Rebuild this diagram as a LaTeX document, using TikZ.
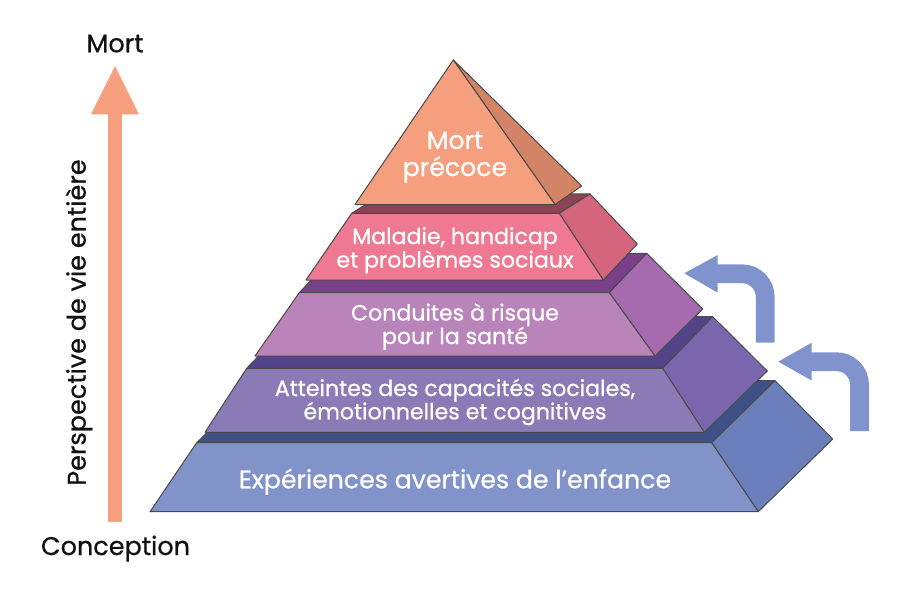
\documentclass[tikz,border=0pt]{standalone}
\usepackage{fontspec}
\setmainfont{Poppins}[FakeBold=0.7]
\definecolor{lAf}{HTML}{8193C9}\definecolor{lAs}{HTML}{6A7FBB}\definecolor{lAt}{HTML}{3F5089}
\definecolor{lBf}{HTML}{8A7BB6}\definecolor{lBs}{HTML}{7A66AD}\definecolor{lBt}{HTML}{53448A}
\definecolor{lCf}{HTML}{B984BA}\definecolor{lCs}{HTML}{A56BAE}\definecolor{lCt}{HTML}{7A408A}
\definecolor{lDf}{HTML}{EF7893}\definecolor{lDs}{HTML}{D5657D}\definecolor{lDt}{HTML}{8B4454}
\definecolor{lEf}{HTML}{F59F7E}\definecolor{lEs}{HTML}{D38466}
\definecolor{salmon}{HTML}{F6A07F}
\definecolor{bluearrow}{HTML}{8193CC}
\definecolor{edge}{HTML}{4A4A4A}
\definecolor{ink}{HTML}{111111}
\tikzset{
  face/.style={draw=edge, line width=1pt, line join=round},
  lbl/.style={text=white, font=\fontsize{25.2}{27}\selectfont, anchor=base, inner sep=0pt},
  lblsm/.style={text=white, font=\fontsize{22.1}{24}\selectfont, anchor=base, inner sep=0pt},
  side/.style={text=ink, font=\fontsize{25.5}{27}\selectfont, inner sep=0pt},
  bendarrow/.style={draw=bluearrow, line width=18.8pt, rounded corners=23pt},
}
\begin{document}
\begin{tikzpicture}[x=1pt,y=-1pt]
\useasboundingbox (0,0) rectangle (900,591);
% ---- layer 1
\fill[face, fill=lAt] (196.7,442.7) -- (711.7,442.7) -- (775,380.7) -- (260,380.7) -- cycle;
\fill[face, fill=lAs] (711.7,442.7) -- (775,380.7) -- (832.7,439) -- (758.3,511.7) -- cycle;
\fill[face, fill=lAf] (150,511.7) -- (758.3,511.7) -- (711.7,442.7) -- (196.7,442.7) -- cycle;
% ---- layer 2
\fill[face, fill=lBt] (246.7,368.3) -- (662.7,368.3) -- (712.7,316.7) -- (296.7,316.7) -- cycle;
\fill[face, fill=lBs] (662.7,368.3) -- (712.7,316.7) -- (767.3,371) -- (704.3,432.3) -- cycle;
\fill[face, fill=lBf] (205,432.3) -- (704.3,432.3) -- (662.7,368.3) -- (246.7,368.3) -- cycle;
% ---- layer 3
\fill[face, fill=lCt] (299.3,292.7) -- (609.3,292.7) -- (646.7,253.3) -- (336.7,253.3) -- cycle;
\fill[face, fill=lCs] (609.3,292.7) -- (646.7,253.3) -- (702.7,309) -- (655,356) -- cycle;
\fill[face, fill=lCf] (255,356) -- (655,356) -- (609.3,292.7) -- (299.3,292.7) -- cycle;
% ---- layer 4
\fill[face, fill=lDt] (351.7,213.3) -- (559.3,213.3) -- (590,194) -- (382.4,194) -- cycle;
\fill[face, fill=lDs] (559.3,213.3) -- (590,194) -- (637.3,244) -- (603.3,280) -- cycle;
\fill[face, fill=lDf] (306,280) -- (603.3,280) -- (559.3,213.3) -- (351.7,213.3) -- cycle;
% ---- top pyramid
\fill[face, fill=lEs] (453.3,60) -- (581.7,186) -- (555,204.5) -- cycle;
\fill[face, fill=lEf] (355,204.5) -- (555,204.5) -- (453.3,60) -- cycle;
% ---- labels
\node[lbl] (t5a) at (455,149) {Mort};
\node[lbl] (t5b) at (455,176) {précoce};
\node[lblsm] (t4a) at (455,244) {Maladie, handicap};
\node[lblsm] (t4b) at (455,267.5) {et problèmes sociaux};
\node[lblsm] (t3a) at (455,320.5) {Conduites à risque};
\node[lblsm] (t3b) at (455,344) {pour la santé};
\node[lblsm] (t2a) at (455,396) {Atteintes des capacités sociales,};
\node[lblsm] (t2b) at (455,419.3) {émotionnelles et cognitives};
\node[lbl] (t1)  at (455,488.3) {Expériences avertives de l’enfance};
% ---- life axis
\coordinate (axbot) at (115,521.7);
\coordinate (axtop) at (115,113);
\coordinate (axtip) at (115,66);
\draw[salmon, line width=14.8pt] (axbot) -- (axtop);
\fill[salmon] (91,114.3) -- (axtip) -- (139,114.3) -- cycle;
\node[side, anchor=base] (mort) at (115,52.3) {Mort};
\node[side, anchor=base] (conc) at (115.5,555) {Conception};
\node[side, anchor=base, rotate=90] (persp) at (85.7,322.5) {Perspective de vie entière};
% ---- bent arrows
\coordinate (a1s) at (765.2,342.7);
\coordinate (a1c) at (765.2,273.8);
\coordinate (a1e) at (716.5,273.8);
\draw[bendarrow] (a1s) -- (a1c) -- (a1e);
\fill[bluearrow] (717.7,255) -- (684.3,273.3) -- (717.7,292.7) -- cycle;
\coordinate (a2s) at (859.5,431);
\coordinate (a2c) at (859.5,361.7);
\coordinate (a2e) at (810.5,361.7);
\draw[bendarrow] (a2s) -- (a2c) -- (a2e);
\fill[bluearrow] (811.7,342.7) -- (778.3,361.7) -- (811.7,380.5) -- cycle;
\end{tikzpicture}
\end{document}
